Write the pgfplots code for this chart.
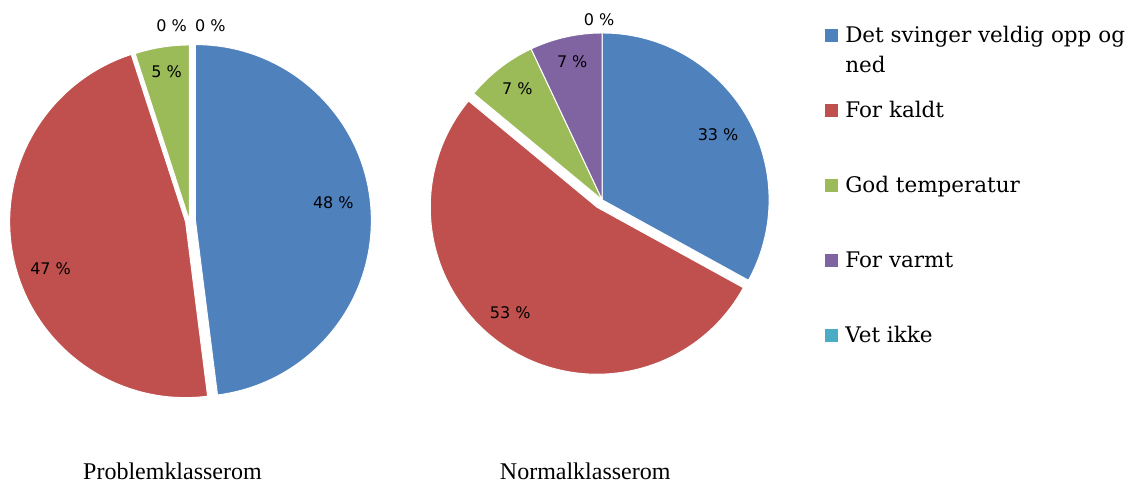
\documentclass[border=0pt]{standalone}
\usepackage{pgfplots}
\usepackage{pgfplotstable}
\pgfplotsset{compat=1.18}
\usepackage{fontspec}
\setmainfont{Liberation Serif}
\newfontfamily\legendfont{DejaVu Serif}
\newfontfamily\pctfont{DejaVu Sans}

\definecolor{sBlue}{HTML}{4F81BD}
\definecolor{sRed}{HTML}{C0504D}
\definecolor{sGreen}{HTML}{9BBB59}
\definecolor{sPurple}{HTML}{8064A2}
\definecolor{sCyan}{HTML}{4BACC6}

% share in percent, explode offset, label position
\pgfplotstableread{
pct ex lx  ly
48  6  333 281
47  4  50  215
5   0  166 412
0   0  171 458
0   0  210 458
}\probtab

\pgfplotstableread{
pct ex lx  ly
33  0  718 349
53  9  510 171
7   0  517 395
7   0  572 422
0   0  599 464
}\normtab

\tikzset{pct/.style={font=\pctfont\fontsize{16}{19}\selectfont, inner sep=0pt},
         leg/.style={font=\legendfont\fontsize{21.5}{26}\selectfont, inner sep=0pt, anchor=base west}}

% #1 table, #2 centre x, #3 centre y, #4 radius
\newcommand{\piechart}[4]{%
  \pgfplotstablegetrowsof{#1}%
  \pgfmathtruncatemacro\lastrow{\pgfplotsretval-1}%
  \def\cum{0}%
  \pgfplotsforeachungrouped \rowi in {0,...,\lastrow}{%
    \pgfplotstablegetelem{\rowi}{pct}\of{#1}\let\p\pgfplotsretval
    \pgfplotstablegetelem{\rowi}{ex}\of{#1}\let\e\pgfplotsretval
    \pgfplotstablegetelem{\rowi}{lx}\of{#1}\let\lx\pgfplotsretval
    \pgfplotstablegetelem{\rowi}{ly}\of{#1}\let\ly\pgfplotsretval
    \pgfmathsetmacro\aS{90-3.6*\cum}%
    \pgfmathsetmacro\aE{90-3.6*(\cum+\p)}%
    \pgfmathsetmacro\aM{(\aS+\aE)/2}%
    \pgfmathsetmacro\ox{#2+\e*cos(\aM)}%
    \pgfmathsetmacro\oy{#3+\e*sin(\aM)}%
    \pgfmathsetmacro\cum{\cum+\p}%
    \edef\col{\ifcase\rowi sBlue\or sRed\or sGreen\or sPurple\or sCyan\fi}%
    \ifdim\p pt>0pt
      \edef\cmd{\noexpand\fill[fill=\col, draw=white, line width=1pt, line join=round]
        (axis cs:\ox,\oy) -- ++(\aS:#4pt) arc[start angle=\aS, end angle=\aE, radius=#4pt] -- cycle;}%
      \cmd
    \fi
    \edef\cmd{\noexpand\node[pct] at (axis cs:\lx,\ly) {\p\space\noexpand\%};}%
    \cmd
  }%
}

\begin{document}
\begin{tikzpicture}
\begin{axis}[x=1pt, y=1pt, xmin=0, xmax=1125, ymin=0, ymax=484,
  hide axis, clip=false, scale only axis]
  \path (axis cs:0,0) rectangle (axis cs:1125,484);

  \piechart{\probtab}{189}{263}{176}
  \piechart{\normtab}{602}{284}{167}

  % legend
  \fill[sBlue]   (axis cs:825,442) rectangle (axis cs:838,455);
  \fill[sRed]    (axis cs:825,367) rectangle (axis cs:838,380);
  \fill[sGreen]  (axis cs:825,292) rectangle (axis cs:838,305);
  \fill[sPurple] (axis cs:825,217) rectangle (axis cs:838,230);
  \fill[sCyan]   (axis cs:825,142) rectangle (axis cs:838,155);
  \node[leg] at (axis cs:845,441) {Det svinger veldig opp og};
  \node[leg] at (axis cs:845,411) {ned};
  \node[leg] at (axis cs:845,366) {For kaldt};
  \node[leg] at (axis cs:845,291) {God temperatur};
  \node[leg] at (axis cs:845,216) {For varmt};
  \node[leg] at (axis cs:845,141) {Vet ikke};

  % group names
  \node[font=\fontsize{24}{28}\selectfont, anchor=base, inner sep=0pt] at (axis cs:172,4) {Problemklasserom};
  \node[font=\fontsize{24}{28}\selectfont, anchor=base, inner sep=0pt] at (axis cs:585,4) {Normalklasserom};
\end{axis}
\end{tikzpicture}
\end{document}
